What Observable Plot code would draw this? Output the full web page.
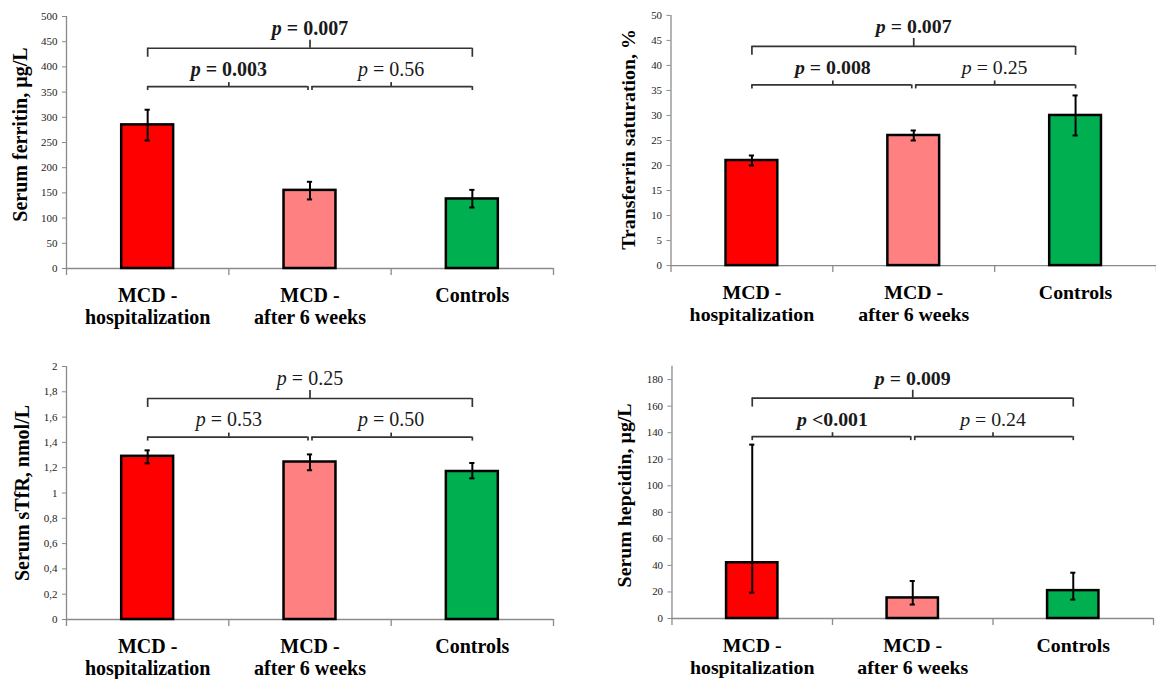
<!DOCTYPE html>
<html>
<head>
<meta charset="utf-8">
<script src="https://cdn.jsdelivr.net/npm/d3@7"></script>
<script src="https://cdn.jsdelivr.net/npm/@observablehq/plot@0.6"></script>
<style>
  html, body { margin: 0; padding: 0; background: #fff; overflow: hidden; }
  #wrap { position: relative; width: 1156px; height: 679px; overflow: hidden; background: #fff; }
  .panel { position: absolute; }
  .panel svg { overflow: visible; }
  #wrap svg, #wrap svg g, #wrap svg text, #wrap svg tspan {
    font-family: "Liberation Serif", "Times New Roman", Times, serif !important;
  }
</style>
</head>
<body>
<div id="wrap">
  <div id="p1" class="panel" style="left:0px;top:0px"></div>
  <div id="p2" class="panel" style="left:600px;top:0px"></div>
  <div id="p3" class="panel" style="left:0px;top:340px"></div>
  <div id="p4" class="panel" style="left:600px;top:340px"></div>
</div>
<script>
// ---------- data ----------
const categories = ["MCD - hospitalization", "MCD - after 6 weeks", "Controls"];
const categoryLines = ["MCD -\nhospitalization", "MCD -\nafter 6 weeks", "Controls"];
const barColors = ["#ff0000", "#ff8080", "#00b050"];

// comparisons: [A vs B, B vs Controls, A vs Controls]
const ferritinLabel = "Serum ferritin, µg/L";
const ferritinMean = [285, 155, 138];
const ferritinLow = [254, 137, 121];
const ferritinHigh = [315, 172, 156];
const ferritinTicks = [0, 50, 100, 150, 200, 250, 300, 350, 400, 450, 500];
const ferritinP = ["p = 0.003", "p = 0.56", "p = 0.007"];
const ferritinPBold = [true, false, true];
const ferritinBracketLevels = [361, 361, 437];

const tsatLabel = "Transferrin saturation, %";
const tsatMean = [21, 26, 30];
const tsatLow = [20, 25, 26];
const tsatHigh = [22, 27, 34];
const tsatTicks = [0, 5, 10, 15, 20, 25, 30, 35, 40, 45, 50];
const tsatP = ["p = 0.008", "p = 0.25", "p = 0.007"];
const tsatPBold = [true, false, true];
const tsatBracketLevels = [36.1, 36.1, 43.8];

const stfrLabel = "Serum sTfR, nmol/L";
const stfrMean = [1.29, 1.245, 1.17];
const stfrLow = [1.234, 1.18, 1.116];
const stfrHigh = [1.337, 1.305, 1.237];
const stfrTicks = [0, 0.2, 0.4, 0.6, 0.8, 1, 1.2, 1.4, 1.6, 1.8, 2];
const stfrP = ["p = 0.53", "p = 0.50", "p = 0.25"];
const stfrPBold = [false, false, false];
const stfrBracketLevels = [1.442, 1.442, 1.747];

const hepcidinLabel = "Serum hepcidin, µg/L";
const hepcidinMean = [42, 15.5, 21];
const hepcidinLow = [19.5, 10.5, 14.25];
const hepcidinHigh = [131, 28.25, 34.5];
const hepcidinTicks = [0, 20, 40, 60, 80, 100, 120, 140, 160, 180];
const hepcidinP = ["p <0.001", "p = 0.24", "p = 0.009"];
const hepcidinPBold = [true, false, true];
const hepcidinBracketLevels = [137, 137, 166];

// ---------- drawing ----------
const FONT = '"Liberation Serif", "Times New Roman", Times, serif';
const pairs = [[0, 1], [1, 2], [0, 2]];

function makePanel(cfg) {
  const rows = categories.map((c, i) => ({
    cat: c, idx: i, line: categoryLines[i], color: barColors[i],
    mean: cfg.mean[i], low: cfg.low[i], high: cfg.high[i]
  }));
  const half = 0.16; // bar half-width in category units
  const cap = 0.016;
  const bounds = categories.map((c, i) => i + 0.5);
  const br = pairs.map(([a, b], k) => ({
    a, b, level: cfg.levels[k], p: cfg.p[k], bold: cfg.bold[k],
    top: k === 2, mid: (a + b) / 2,
    gapL: k === 1 ? 2 : 0, gapR: k === 0 ? 2 : 0
  }));
  const bstyle = {stroke: "#333", strokeWidth: 1.7};
  const bracketMarks = br.flatMap(d => {
    const ends = d.top ? 9 : 4;
    const midUp = d.top ? 8 : 4;
    return [
      Plot.ruleY([d], {y: "level", x1: "a", x2: "b", insetLeft: d.gapL, insetRight: d.gapR, ...bstyle}),
      Plot.ruleX([d], {x: "a", y1: "level", y2: "level", dx: d.gapL, insetTop: ends, ...bstyle}),
      Plot.ruleX([d], {x: "b", y1: "level", y2: "level", dx: -d.gapR, insetTop: ends, ...bstyle}),
      Plot.ruleX([d], {x: "mid", y1: "level", y2: "level", insetBottom: midUp, ...bstyle}),
      Plot.text([d], {x: "mid", y: "level", text: "p", dy: d.top ? -20 : -17, fontSize: 20, fontFamily: FONT,
        fontWeight: d.bold ? "bold" : "normal", lineAnchor: "middle", textAnchor: "middle", fill: "#1a1a1a"})
    ];
  });
  const axisColor = "#8a8a8a";
  const svg = Plot.plot({
    width: cfg.width, height: cfg.height,
    marginLeft: cfg.mL, marginRight: cfg.mR, marginTop: cfg.mT, marginBottom: cfg.mB,
    style: {fontFamily: FONT, background: "white", color: "black", overflow: "visible"},
    x: {type: "linear", domain: [-0.5, 2.5], axis: null},
    y: {domain: cfg.domain, axis: null},
    color: {type: "identity"},
    marks: [
      Plot.ruleY([0], {stroke: axisColor, strokeWidth: 1.3}),
      Plot.ruleX([-0.5], {y1: cfg.domain[1], y2: 0, insetBottom: -7, stroke: axisColor, strokeWidth: 1.3}),
      Plot.ruleX(bounds, {x: d => d, y1: 0, y2: 0, insetTop: 7, stroke: axisColor, strokeWidth: 1.3}),
      Plot.axisY({ticks: cfg.ticks, tickFormat: cfg.tickFormat || (d => String(d)), tickSize: 4, tickPadding: 5,
        fontSize: 11, stroke: axisColor, fill: "#222", fontFamily: FONT}),
      Plot.rectY(rows, {x1: d => d.idx - half, x2: d => d.idx + half, y1: 0, y2: "mean",
        fill: "color", stroke: "black", strokeWidth: 2.5}),
      Plot.ruleX(rows, {x: "idx", y1: "low", y2: "high", stroke: "black", strokeWidth: 2}),
      Plot.ruleY(rows, {y: "low", x1: d => d.idx - cap, x2: d => d.idx + cap, stroke: "black", strokeWidth: 2}),
      Plot.ruleY(rows, {y: "high", x1: d => d.idx - cap, x2: d => d.idx + cap, stroke: "black", strokeWidth: 2}),
      ...bracketMarks,
      Plot.text(rows, {x: "idx", text: "line", frameAnchor: "bottom", lineAnchor: "top", dy: 18, fontFamily: FONT,
        lineHeight: 1.1, fontSize: 20, fontWeight: "bold", textAnchor: "middle", fill: "black"}),
      Plot.text([cfg.label], {frameAnchor: "left", rotate: -90, dx: cfg.labelDx, dy: cfg.labelDy, fontFamily: FONT,
        fontSize: 20, fontWeight: "bold", textAnchor: "middle", lineAnchor: "middle", fill: "black"})
    ]
  });
  // italicize the leading "p" of p-value annotations
  const ns = "http://www.w3.org/2000/svg";
  svg.querySelectorAll("text").forEach(t => {
    if (t.children.length) return;
    const m = /^p( ?[=<].*)$/.exec(t.textContent);
    if (!m) return;
    t.textContent = "";
    const a = document.createElementNS(ns, "tspan");
    a.setAttribute("font-style", "italic");
    a.textContent = "p";
    const b = document.createElementNS(ns, "tspan");
    b.textContent = m[1];
    t.append(a, b);
  });
  document.getElementById(cfg.el).append(svg);
}

makePanel({el: "p1", width: 578, height: 340, mL: 66, mR: 25, mT: 16, mB: 72,
  domain: [0, 500], ticks: ferritinTicks, mean: ferritinMean, low: ferritinLow, high: ferritinHigh,
  p: ferritinP, bold: ferritinPBold, levels: ferritinBracketLevels, label: ferritinLabel, labelDx: -46, labelDy: -8});

makePanel({el: "p2", width: 560, height: 340, mL: 71, mR: 0, mT: 15, mB: 73,
  domain: [0, 50], ticks: tsatTicks, mean: tsatMean, low: tsatLow, high: tsatHigh,
  p: tsatP, bold: tsatPBold, levels: tsatBracketLevels, label: tsatLabel, labelDx: -43, labelDy: -1});

makePanel({el: "p3", width: 578, height: 339, mL: 66, mR: 25, mT: 26, mB: 60,
  domain: [0, 2], ticks: stfrTicks, tickFormat: d => String(d).replace(".", ","),
  mean: stfrMean, low: stfrLow, high: stfrHigh,
  p: stfrP, bold: stfrPBold, levels: stfrBracketLevels, label: stfrLabel, labelDx: -44, labelDy: 0});

makePanel({el: "p4", width: 560, height: 339, mL: 72, mR: 3, mT: 26, mB: 59,
  domain: [0, 190], ticks: hepcidinTicks, mean: hepcidinMean, low: hepcidinLow, high: hepcidinHigh,
  p: hepcidinP, bold: hepcidinPBold, levels: hepcidinBracketLevels, label: hepcidinLabel, labelDx: -48, labelDy: 3});
</script>
</body>
</html>
